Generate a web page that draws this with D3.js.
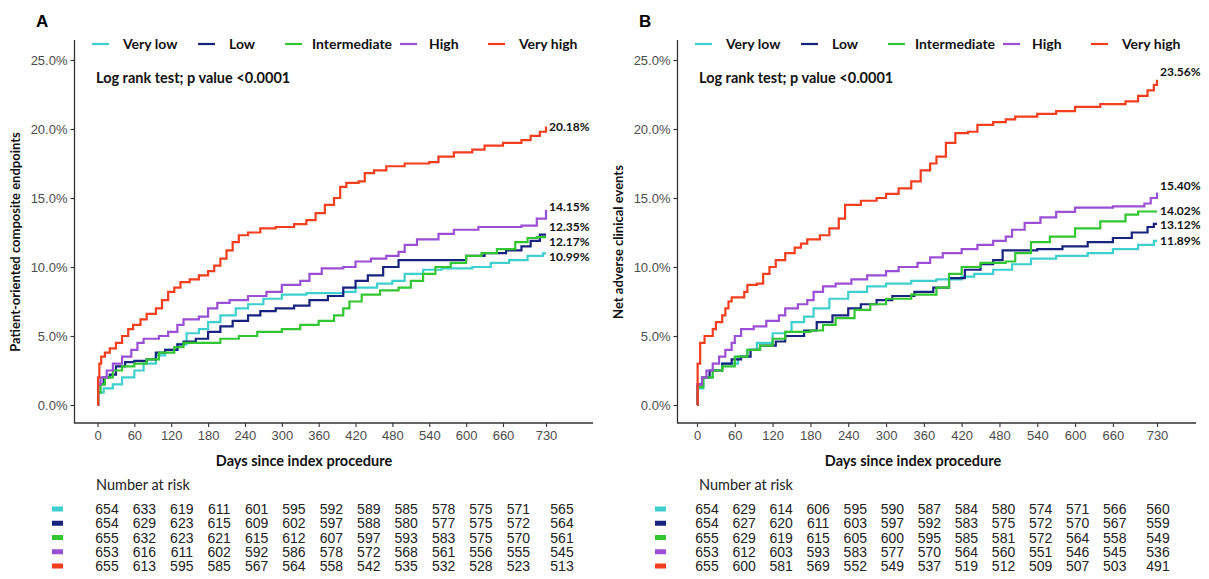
<!DOCTYPE html>
<html>
<head>
<meta charset="utf-8">
<script src="https://cdn.jsdelivr.net/npm/d3@7"></script>
<style>
  body { margin: 0; background: #fff; }
  svg { display: block; }
</style>
</head>
<body>
<div id="chart"></div>
<script>
// ---- data ----
const groups = ["Very low", "Low", "Intermediate", "High", "Very high"];
const colors = ["#3fcfcf", "#17237f", "#33c633", "#9b4fd4", "#f23d1e"];
const dayTicks = [0, 60, 120, 180, 240, 300, 360, 420, 480, 540, 600, 660, 730];
const pctTicks = [0, 5, 10, 15, 20, 25];

// panel A: patient-oriented composite endpoints, [day, %]
const aVeryLow = [[0,0],[1,0.9],[10,1.2],[25,1.5],[40,2.0],[60,2.5],[75,3.0],[95,3.6],[110,4.0],[130,4.4],[145,5.2],[165,5.5],[180,6.0],[200,6.5],[225,7.0],[245,7.3],[270,7.7],[300,8.0],[340,8.1],[400,8.2],[420,8.5],[455,8.8],[480,9.0],[500,9.5],[530,9.8],[560,9.9],[610,10.0],[640,10.3],[670,10.5],[700,10.8],[725,10.99],[730,10.99]];
const aLow = [[0,0],[1,1.5],[10,2.0],[20,2.2],[30,2.8],[45,3.1],[60,3.2],[80,3.3],[95,3.8],[110,4.0],[130,4.4],[140,4.6],[160,4.8],[180,5.3],[200,5.7],[220,6.1],[245,6.5],[265,6.8],[290,7.0],[320,7.2],[345,7.6],[375,7.9],[400,8.5],[420,9.0],[440,9.4],[465,10.0],[490,10.5],[575,10.5],[600,10.8],[630,11.0],[665,11.2],[690,11.5],[705,11.9],[720,12.35],[730,12.35]];
const aInter = [[0,0],[1,0.9],[5,1.5],[12,2.0],[25,2.5],[40,2.8],[60,3.0],[80,3.3],[100,3.8],[125,4.2],[140,4.5],[180,4.5],[200,4.8],[230,5.0],[260,5.3],[300,5.5],[330,5.8],[360,6.1],[385,6.5],[400,7.0],[410,7.5],[430,8.0],[460,8.3],[490,8.5],[510,9.0],[530,9.5],[550,10.0],[575,10.3],[600,10.8],[625,11.0],[650,11.3],[680,11.8],[700,12.1],[715,12.17],[730,12.17]];
const aHigh = [[0,0],[1,1.5],[5,2.0],[15,2.5],[25,3.0],[40,3.5],[55,4.0],[65,4.5],[75,4.8],[100,5.0],[115,5.3],[130,5.8],[140,6.2],[165,6.4],[180,7.0],[195,7.4],[215,7.6],[245,7.9],[275,8.2],[300,8.7],[330,9.0],[345,9.5],[365,9.9],[400,10.0],[420,10.4],[445,10.6],[470,10.8],[490,11.1],[500,11.6],[520,12.0],[555,12.4],[580,12.7],[620,12.9],[690,13.0],[715,13.5],[730,14.15]];
const aVeryHigh = [[0,0],[1,2.0],[3,3.0],[6,3.5],[12,3.8],[20,4.1],[30,4.5],[40,5.0],[50,5.5],[58,5.8],[70,6.2],[80,6.6],[95,7.0],[105,7.6],[115,8.2],[125,8.5],[135,8.9],[150,9.1],[165,9.4],[180,9.7],[190,10.1],[200,10.6],[210,11.2],[220,11.8],[230,12.3],[245,12.5],[265,12.8],[290,12.9],[320,13.1],[340,13.4],[355,13.9],[370,14.5],[385,15.0],[395,15.8],[405,16.1],[425,16.2],[435,16.8],[450,17.0],[470,17.3],[500,17.5],[540,17.6],[555,18.0],[580,18.3],[610,18.5],[630,18.8],[660,19.0],[690,19.2],[705,19.5],[720,19.8],[730,20.18]];

// panel B: net adverse clinical events, [day, %]
const bVeryLow = [[0,0],[1,1.2],[10,2.0],[25,2.5],[40,3.0],[65,3.5],[80,4.0],[95,4.5],[120,5.2],[140,5.3],[150,6.0],[170,6.4],[185,7.0],[210,7.7],[240,8.2],[270,8.6],[300,8.8],[340,9.0],[380,9.1],[420,9.3],[440,9.5],[470,9.8],[500,10.2],[530,10.6],[570,10.8],[620,11.0],[660,11.3],[700,11.6],[725,11.89],[730,11.89]];
const bLow = [[0,0],[1,1.5],[8,2.0],[20,2.5],[40,3.0],[55,3.3],[70,3.5],[85,4.0],[100,4.3],[125,4.6],[140,5.0],[170,5.4],[190,6.0],[215,6.5],[240,7.0],[260,7.3],[285,7.6],[310,7.9],[345,8.2],[375,8.5],[400,9.2],[425,9.8],[450,10.2],[470,10.5],[485,11.2],[540,11.3],[580,11.5],[620,11.8],[660,12.1],[690,12.5],[715,12.9],[725,13.12],[730,13.12]];
const bInter = [[0,0],[1,1.3],[10,2.0],[25,2.5],[40,2.8],[60,3.5],[80,4.0],[100,4.3],[120,4.8],[140,5.3],[180,5.4],[200,5.8],[220,6.3],[250,6.9],[275,7.3],[300,7.7],[340,8.0],[380,8.5],[400,9.5],[420,10.0],[450,10.3],[490,10.4],[505,11.0],[530,11.8],[560,12.2],[600,12.8],[640,13.3],[680,13.8],[700,14.02],[730,14.02]];
const bHigh = [[0,0],[1,1.5],[8,2.0],[15,2.5],[25,3.0],[35,3.5],[45,4.0],[55,4.5],[60,5.0],[70,5.5],[90,5.7],[110,6.1],[130,6.5],[140,7.0],[160,7.3],[175,7.6],[185,8.2],[200,8.6],[220,8.8],[245,9.1],[270,9.4],[300,9.7],[320,10.0],[350,10.3],[370,10.7],[390,11.0],[420,11.3],[445,11.6],[470,11.9],[490,12.2],[500,12.7],[520,13.2],[545,13.6],[570,14.0],[600,14.3],[660,14.4],[710,14.6],[720,15.0],[730,15.4]];
const bVeryHigh = [[0,0],[1,3.0],[5,4.5],[12,5.0],[25,5.5],[30,6.0],[40,6.5],[45,7.0],[50,7.5],[55,7.8],[75,8.2],[80,8.7],[95,8.8],[105,9.5],[115,10.0],[125,10.5],[140,11.0],[155,11.4],[165,11.7],[175,12.0],[195,12.3],[210,12.8],[225,13.5],[235,14.5],[260,14.8],[285,15.0],[300,15.3],[320,15.7],[340,16.2],[355,17.0],[370,17.5],[380,18.0],[395,19.0],[410,19.7],[430,19.8],[445,20.3],[470,20.5],[490,20.7],[505,20.9],[540,21.1],[570,21.3],[600,21.6],[640,21.8],[680,22.0],[700,22.4],[715,22.8],[725,23.2],[730,23.56]];

const aEndLabels = ["10.99%", "12.35%", "12.17%", "14.15%", "20.18%"];
const bEndLabels = ["11.89%", "13.12%", "14.02%", "15.40%", "23.56%"];

// number at risk, one row per group, one column per day tick
const aRisk = [
  [654, 633, 619, 611, 601, 595, 592, 589, 585, 578, 575, 571, 565],
  [654, 629, 623, 615, 609, 602, 597, 588, 580, 577, 575, 572, 564],
  [655, 632, 623, 621, 615, 612, 607, 597, 593, 583, 575, 570, 561],
  [653, 616, 611, 602, 592, 586, 578, 572, 568, 561, 556, 555, 545],
  [655, 613, 595, 585, 567, 564, 558, 542, 535, 532, 528, 523, 513]
];
const bRisk = [
  [654, 629, 614, 606, 595, 590, 587, 584, 580, 574, 571, 566, 560],
  [654, 627, 620, 611, 603, 597, 592, 583, 575, 572, 570, 567, 559],
  [655, 629, 619, 615, 605, 600, 595, 585, 581, 572, 564, 558, 549],
  [653, 612, 603, 593, 583, 577, 570, 564, 560, 551, 546, 545, 536],
  [655, 600, 581, 569, 552, 549, 537, 519, 512, 509, 507, 503, 491]
];

// ---- drawing ----
const W = 1209, H = 579;
const svg = d3.select("#chart").append("svg")
  .attr("width", W).attr("height", H);

const sansBold = "Lato, 'Open Sans', sans-serif";
const arial = "'Liberation Sans', Arial, sans-serif";

function drawPanel(cfg) {
  const g = svg.append("g").attr("transform", `translate(${cfg.dx},0)`);

  const x = d3.scaleLinear().domain([0, 730]).range(cfg.xRange);
  const y = d3.scaleLinear().domain([0, 25]).range([405, 60]);
  const axisLeft = 74.5, axisBottom = 423, axisTop = 40, axisRight = 593;

  // panel letter
  g.append("text").attr("x", 36).attr("y", 27)
    .attr("font-family", arial).attr("font-weight", "bold").attr("font-size", 17)
    .text(cfg.letter);

  // axes
  const yAxis = g.append("g").attr("transform", `translate(${axisLeft},0)`)
    .call(d3.axisLeft(y).tickValues(pctTicks).tickSize(4).tickPadding(3)
      .tickFormat(d => d.toFixed(1) + "%"));
  yAxis.select(".domain").remove();

  const xAxis = g.append("g").attr("transform", `translate(0,${axisBottom})`)
    .call(d3.axisBottom(x).tickValues(dayTicks).tickSize(4).tickPadding(4));
  xAxis.select(".domain").remove();

  g.selectAll(".tick text").attr("font-family", arial).attr("font-size", 13).attr("fill", "#4d4d4d");
  g.selectAll(".tick line").attr("stroke", "#333").attr("stroke-width", 1.1);

  g.append("path")
    .attr("d", `M${axisLeft},${axisTop}V${axisBottom}H${axisRight}`)
    .attr("fill", "none").attr("stroke", "#333").attr("stroke-width", 1.3);

  // curves
  const line = d3.line().x(d => x(d[0])).y(d => y(d[1])).curve(d3.curveStepAfter);
  const order = [0, 1, 2, 3, 4];
  g.selectAll(".km").data(order).enter().append("path")
    .attr("class", "km")
    .attr("d", i => line(cfg.curves[i]))
    .attr("fill", "none")
    .attr("stroke", i => colors[i])
    .attr("stroke-width", 2.2);

  // end labels
  g.selectAll(".endlab").data(order).enter().append("text")
    .attr("class", "endlab")
    .attr("x", x(730) + 3)
    .attr("y", i => y(cfg.curves[i][cfg.curves[i].length - 1][1]) + cfg.nudge[i] + 4)
    .attr("font-family", sansBold).attr("font-weight", "bold").attr("font-size", 12)
    .attr("fill", "#111")
    .text(i => cfg.endLabels[i]);

  // legend
  const legX = [92, 198, 285, 400, 488];
  const leg = g.selectAll(".leg").data(order).enter().append("g")
    .attr("transform", i => `translate(${legX[i]},44)`);
  leg.append("line").attr("x1", 0).attr("x2", 17).attr("y1", 0).attr("y2", 0)
    .attr("stroke", i => colors[i]).attr("stroke-width", 2.2);
  leg.append("text").attr("x", i => (i === 2 ? 27 : i === 3 ? 29 : 31)).attr("y", 5)
    .attr("font-family", sansBold).attr("font-weight", "bold").attr("font-size", 14)
    .attr("fill", "#111")
    .text(i => groups[i]);

  g.append("text").attr("x", 96).attr("y", 83)
    .attr("font-family", sansBold).attr("font-weight", "bold").attr("font-size", 14.5)
    .attr("fill", "#111")
    .text("Log rank test; p value <0.0001");

  // axis titles
  g.append("text")
    .attr("transform", `translate(${cfg.yTitleX},242) rotate(-90)`)
    .attr("text-anchor", "middle")
    .attr("font-family", sansBold).attr("font-weight", "bold").attr("font-size", 13)
    .attr("fill", "#111")
    .text(cfg.yTitle);

  g.append("text").attr("x", cfg.xTitleX).attr("y", 466)
    .attr("text-anchor", "middle")
    .attr("font-family", sansBold).attr("font-weight", "bold").attr("font-size", 14.5)
    .attr("fill", "#111")
    .text("Days since index procedure");

  // number at risk table
  g.append("text").attr("x", 96).attr("y", 490)
    .attr("font-family", sansBold).attr("font-size", 14.5).attr("fill", "#222")
    .text("Number at risk");

  const rx = d3.scaleLinear().domain([0, 730]).range(cfg.riskRange);
  const rowY = d3.scaleLinear().domain([0, 4]).range([509, 566]);
  const rows = g.selectAll(".riskrow").data(order).enter().append("g")
    .attr("transform", i => `translate(0,${rowY(i)})`);
  rows.append("rect").attr("x", 52).attr("y", -2.5).attr("width", 11).attr("height", 5)
    .attr("fill", i => colors[i]);
  rows.selectAll("text").data(i => cfg.risk[i].map((v, j) => [dayTicks[j], v]))
    .enter().append("text")
    .attr("x", d => rx(d[0])).attr("y", 5)
    .attr("text-anchor", "middle")
    .attr("font-family", arial).attr("font-size", 14).attr("fill", "#222")
    .text(d => d[1]);
}

drawPanel({
  dx: 0, letter: "A", xRange: [97.5, 546], riskRange: [107, 562], xTitleX: 304,
  curves: [aVeryLow, aLow, aInter, aHigh, aVeryHigh],
  endLabels: aEndLabels, nudge: [4, -8, 5, -3, 0],
  risk: aRisk, yTitle: "Patient-oriented composite endpoints", yTitleX: 20
});
drawPanel({
  dx: 603, letter: "B", xRange: [94, 554], riskRange: [104, 555], xTitleX: 310,
  curves: [bVeryLow, bLow, bInter, bHigh, bVeryHigh],
  endLabels: bEndLabels, nudge: [0, 1, -1, -6, -8],
  risk: bRisk, yTitle: "Net adverse clinical events", yTitleX: 20
});
</script>
</body>
</html>
